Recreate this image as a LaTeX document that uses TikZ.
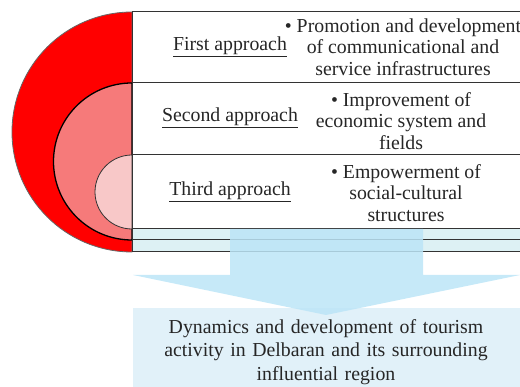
\documentclass[tikz,border=0pt]{standalone}
\usepackage{fontspec}
\setmainfont{Liberation Serif}
\usetikzlibrary{shapes}

\definecolor{outerred}{HTML}{FF0000}
\definecolor{midred}{HTML}{F67A7A}
\definecolor{innerred}{HTML}{F8C8C8}
\definecolor{stripblue}{HTML}{DDF1F4}
\definecolor{arrowblue}{HTML}{BCE5F7}
\definecolor{boxblue}{HTML}{E1F1F9}

\begin{document}
\begin{tikzpicture}[x=1pt,y=1pt,inner sep=0pt,
  rowbox/.style={draw=black!80,line width=1pt,fill=white},
  stripbox/.style={draw=black!80,line width=1pt,fill=stripblue},
  apname/.style={font=\fontsize{19.8}{21.5}\selectfont,text=black!85},
  itemtext/.style={align=center,font=\fontsize{19.8}{21.5}\selectfont,text=black!85}]
\useasboundingbox (0,0) rectangle (520,387);
% half discs
\draw[fill=outerred,draw=black!60,line width=0.8pt] (132,375) arc[start angle=90,end angle=270,radius=120] -- cycle;
\draw[fill=midred,draw=black,line width=1.3pt] (132,304) arc[start angle=90,end angle=270,radius=78.5] -- cycle;
\draw[fill=innerred,draw=black!80,line width=0.8pt] (132,232) arc[start angle=90,end angle=270,radius=37] -- cycle;
% rows
\draw[rowbox] (132,304) rectangle (523,375);
\draw[rowbox] (132,232) rectangle (523,304);
\draw[rowbox] (132,158) rectangle (523,232);
\draw[stripbox] (132,147) rectangle (523,158);
\draw[stripbox] (132,135) rectangle (523,147);
\node[apname] (a1) at (230,340) {\underline{First approach}};
\node[apname] (a2) at (230,269) {\underline{Second approach}};
\node[apname] (a3) at (230,195) {\underline{Third approach}};
\node[itemtext] (t1) at (403,340) {\textbullet\ Promotion and development\\ of communicational and\\ service infrastructures};
\node[itemtext] (t2) at (401,266) {\textbullet\ Improvement of\\ economic system and\\ fields};
\node[itemtext] (t3) at (406,194) {\textbullet\ Empowerment of\\ social-cultural\\ structures};
% result box and arrow
\draw[fill=boxblue,draw=none] (133,0) rectangle (520,79);
\node[itemtext,text width=380,font=\fontsize{19.8}{23.5}\selectfont] (res) at (326,35) {Dynamics and development of tourism\\ activity in Delbaran and its surrounding\\ influential region};
\fill[arrowblue,fill opacity=0.85] (230,158) -- (423,158) -- (423,112) -- (520,112) -- (326,72) -- (133,112) -- (230,112) -- cycle;
\end{tikzpicture}
\end{document}
